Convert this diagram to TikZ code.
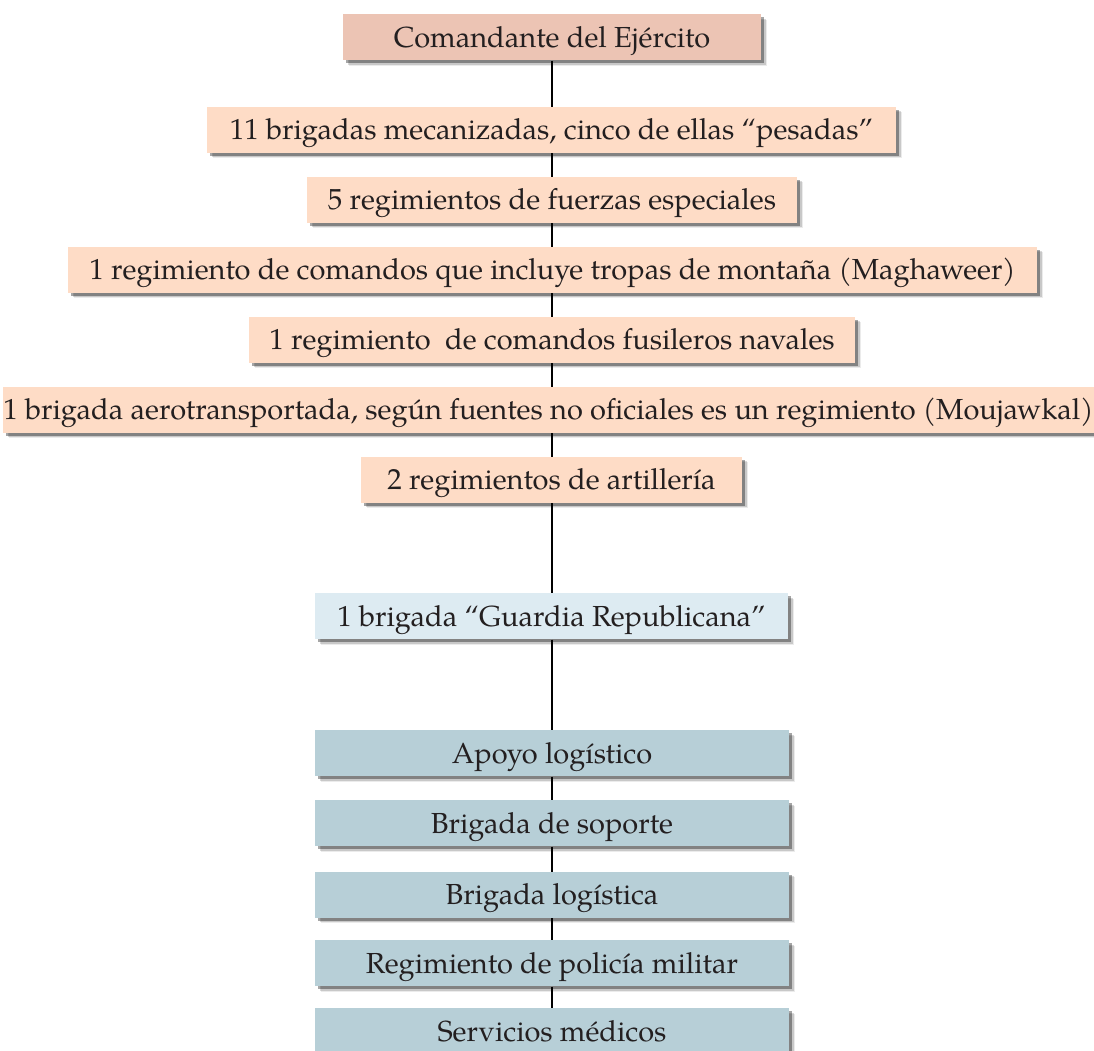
\documentclass[tikz,border=0pt]{standalone}
\usepackage{fontspec}
\setmainfont{TeX Gyre Pagella}
\usetikzlibrary{shadows,backgrounds}
\definecolor{cmdcol}{HTML}{ECC4B4}
\definecolor{peach}{HTML}{FEDCC6}
\definecolor{lblue}{HTML}{DDEBF2}
\definecolor{gblue}{HTML}{B7CFD7}
\definecolor{txt}{HTML}{231F20}
\tikzset{
  orgbox/.style={draw=none, inner sep=0pt, minimum height=46pt, text=txt,
    font=\fontsize{29}{34}\selectfont, text height=20pt, text depth=0pt,
    drop shadow={shadow xshift=5.5pt, shadow yshift=-5.5pt, opacity=0.08, fill=black},
    drop shadow={shadow xshift=4.5pt, shadow yshift=-4.5pt, opacity=0.15, fill=black},
    drop shadow={shadow xshift=3pt, shadow yshift=-3pt, opacity=0.35, fill=black}},
  topbox/.style={orgbox, fill=cmdcol},
  peachbox/.style={orgbox, fill=peach},
  guardbox/.style={orgbox, fill=lblue},
  supbox/.style={orgbox, fill=gblue, minimum width=474pt},
  link/.style={draw=black, line width=1.4pt}
}
\begin{document}
\begin{tikzpicture}[x=1pt,y=1pt]
\useasboundingbox (0,0) rectangle (1094,1051);
\node[topbox, minimum width=418pt] (n1) at (552,1051-37.5) {Comandante del Ejército};
\node[peachbox, minimum width=689pt] (n2) at (551.5,1051-130) {11 brigadas mecanizadas, cinco de ellas “pesadas”};
\node[peachbox, minimum width=490pt] (n3) at (552,1051-200) {5 regimientos de fuerzas especiales};
\node[peachbox, minimum width=969pt] (n4) at (552.5,1051-270) {1 regimiento de comandos que incluye tropas de montaña (Maghaweer)};
\node[peachbox, minimum width=606pt] (n5) at (552,1051-340) {1 regimiento\ \ de comandos fusileros navales};
\node[peachbox, minimum width=1087pt] (n6) at (548.5,1051-410) {1 brigada aerotransportada, según fuentes no oficiales es un regimiento (Moujawkal)};
\node[peachbox, minimum width=381pt] (n7) at (551.5,1051-480) {2 regimientos de artillería};
\node[guardbox, minimum width=473pt] (n8) at (551.5,1051-616.5) {1 brigada “Guardia Republicana”};
\node[supbox] (n9) at (552,1051-753.5) {Apoyo logístico};
\node[supbox] (n10) at (552,1051-823.5) {Brigada de soporte};
\node[supbox] (n11) at (552,1051-895) {Brigada logística};
\node[supbox] (n12) at (552,1051-963.5) {Regimiento de policía militar};
\node[supbox] (n13) at (552,1051-1031.5) {Servicios médicos};
\begin{scope}[on background layer]
\foreach \a/\b in {n1/n2,n2/n3,n3/n4,n4/n5,n5/n6,n6/n7,n7/n8,n8/n9,n9/n10,n10/n11,n11/n12,n12/n13}
  \draw[link] (\a.south -| n1.south) -- (\b.north -| n1.south);
\end{scope}
\end{tikzpicture}
\end{document}
